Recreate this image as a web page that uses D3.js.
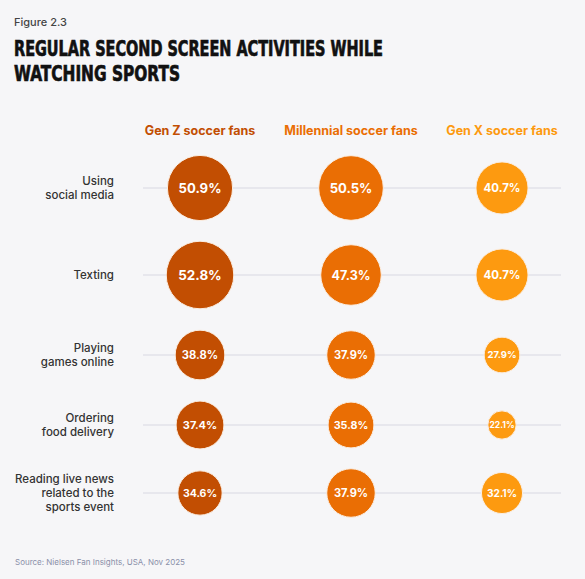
<!DOCTYPE html>
<html>
<head>
<meta charset="utf-8">
<script src="https://cdn.jsdelivr.net/npm/d3@7"></script>
<style>
  body { margin: 0; background: #f6f6f8; }
  svg { display: block; }
</style>
</head>
<body>
<div id="chart"></div>
<script>
// data
var groups = ['Gen Z soccer fans', 'Millennial soccer fans', 'Gen X soccer fans']
var groupColors = ['#c24e02', '#ea6e04', '#fd9a10']
var activities = [
  ['Using', 'social media'],
  ['Texting'],
  ['Playing', 'games online'],
  ['Ordering', 'food delivery'],
  ['Reading live news', 'related to the', 'sports event']
]
var genZ = [50.9, 52.8, 38.8, 37.4, 34.6]
var millennial = [50.5, 47.3, 37.9, 35.8, 37.9]
var genX = [40.7, 40.7, 27.9, 22.1, 32.1]
var series = [genZ, millennial, genX]

var width = 585
var height = 579

var svg = d3.select('#chart')
  .append('svg')
  .attr('width', width)
  .attr('height', height)

svg.append('rect')
  .attr('width', width)
  .attr('height', height)
  .attr('fill', '#f6f6f8')

// heading
svg.append('text')
  .attr('x', 14)
  .attr('y', 26)
  .attr('font-family', 'Inter')
  .attr('font-size', 11)
  .attr('font-weight', 500)
  .attr('fill', '#444')
  .text('Figure 2.3')

var titleLines = ['REGULAR SECOND SCREEN ACTIVITIES WHILE', 'WATCHING SPORTS']
var titleWidths = [369, 166]
titleLines.forEach(function (t, i) {
  svg.append('text')
    .attr('x', 14)
    .attr('y', 56 + i * 25)
    .attr('font-family', 'DejaVu Sans Condensed')
    .attr('font-size', 22)
    .attr('font-weight', 'bold')
    .attr('fill', '#111')
    .attr('stroke', '#111')
    .attr('stroke-width', 0.7)
    .attr('textLength', titleWidths[i])
    .attr('lengthAdjust', 'spacingAndGlyphs')
    .text(t)
})

// scales
var x = d3.scalePoint()
  .domain(groups)
  .range([200, 502])

// rows are not evenly spaced in the figure
var rowY = [188, 275, 355, 425, 493]
var y = d3.scaleOrdinal()
  .domain(d3.range(activities.length))
  .range(rowY)

var r = d3.scaleLinear()
  .domain([0, 100])
  .range([0, 64])

// column headers
svg.selectAll('.head')
  .data(groups)
  .enter()
  .append('text')
  .attr('class', 'head')
  .attr('x', function (d) { return x(d) })
  .attr('y', 135)
  .attr('text-anchor', 'middle')
  .attr('font-family', 'Inter')
  .attr('font-size', 12.5)
  .attr('font-weight', 700)
  .attr('fill', function (d, i) { return groupColors[i] })
  .text(function (d) { return d })

// rows
var rows = svg.selectAll('.row')
  .data(activities)
  .enter()
  .append('g')
  .attr('class', 'row')
  .attr('transform', function (d, i) { return 'translate(0,' + y(i) + ')' })

rows.append('line')
  .attr('x1', 143)
  .attr('x2', 561)
  .attr('stroke', '#e2e2ea')
  .attr('stroke-width', 1.5)

rows.append('text')
  .attr('text-anchor', 'end')
  .attr('font-family', 'Inter')
  .attr('font-size', 11.5)
  .attr('font-weight', 500)
  .attr('fill', '#333')
  .selectAll('tspan')
  .data(function (d) { return d })
  .enter()
  .append('tspan')
  .attr('x', 114)
  .attr('y', function (d, i, nodes) {
    return (i - (nodes.length - 1) / 2) * 14 + 4
  })
  .text(function (d) { return d })

// bubbles
var cells = []
series.forEach(function (s, gi) {
  s.forEach(function (v, ai) {
    cells.push({ g: gi, a: ai, v: v })
  })
})

var bubbles = svg.selectAll('.bubble')
  .data(cells)
  .enter()
  .append('g')
  .attr('class', 'bubble')
  .attr('transform', function (d) {
    return 'translate(' + x(groups[d.g]) + ',' + y(d.a) + ')'
  })

bubbles.append('circle')
  .attr('r', function (d) { return r(d.v) })
  .attr('fill', function (d) { return groupColors[d.g] })
  .attr('stroke', '#fbeee2')
  .attr('stroke-width', 1)

bubbles.append('text')
  .attr('text-anchor', 'middle')
  .attr('dy', '0.36em')
  .attr('font-family', 'Inter')
  .attr('font-weight', 700)
  .attr('font-size', function (d) { return 5 + r(d.v) * 0.25 })
  .attr('fill', '#fff')
  .text(function (d) { return d.v.toFixed(1) + '%' })

// source
svg.append('text')
  .attr('x', 15)
  .attr('y', 565)
  .attr('font-family', 'Inter')
  .attr('font-size', 8)
  .attr('fill', '#8a8fa8')
  .text('Source: Nielsen Fan Insights, USA, Nov 2025')
</script>
</body>
</html>
